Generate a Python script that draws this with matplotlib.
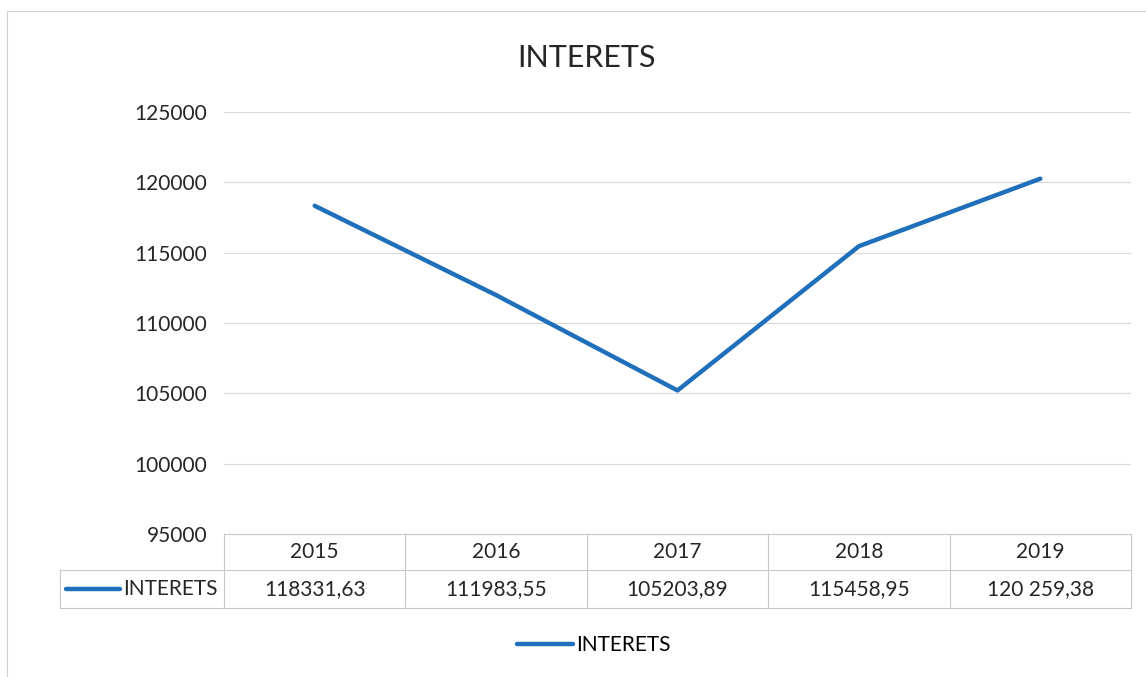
import matplotlib.pyplot as plt
from matplotlib.lines import Line2D
from matplotlib.patches import Rectangle
from matplotlib.transforms import blended_transform_factory

# data
years = ['2015', '2016', '2017', '2018', '2019']
interets = [118331.63, 111983.55, 105203.89, 115458.95, 120259.38]
table_labels = ['118331,63', '111983,55', '105203,89', '115458,95', '120 259,38']
y_ticks = [95000, 100000, 105000, 110000, 115000, 120000, 125000]

line_color = '#1f6fba'
grid_color = '#d9d9d9'
edge_color = '#c8c8c8'
text_color = '#262626'
plt.rcParams['font.family'] = ['Lato', 'DejaVu Sans']

fig = plt.figure(figsize=(11.46, 6.77), dpi=100)
ax = fig.add_axes([224 / 1146, 1 - 534 / 677, 907 / 1146, 422 / 677])

x = list(range(len(years)))
ax.plot(x, interets, color=line_color, linewidth=3.2, solid_capstyle='round',
        label='INTERETS', zorder=3)

ax.set_xlim(-0.5, len(years) - 0.5)
ax.set_ylim(95000, 125000)
ax.set_yticks(y_ticks)
ax.set_yticklabels([str(t) for t in y_ticks], fontsize=15, color=text_color)
ax.tick_params(axis='y', length=0, pad=12)
ax.set_xticks([])
for s in ax.spines.values():
    s.set_visible(False)
for t in y_ticks[1:]:
    ax.axhline(t, color=grid_color, linewidth=0.8, zorder=1)

# title centred on the whole chart area
fig.text(586 / 1146, 1 - 58 / 677, 'INTERETS', ha='center', va='center', fontsize=22,
         color=text_color)

# data table under the chart, drawn by hand
left = -164 / 907
mid = -36 / 422
bot = -74 / 422
ta = ax.transAxes
seg = [([0, 1], [0, 0]), ([left, 1], [mid, mid]), ([left, 1], [bot, bot]),
       ([left, left], [bot, mid])]
for i in range(len(years) + 1):
    xb = i / len(years)
    seg.append(([xb, xb], [bot, 0]))
for xs, ys in seg:
    ax.add_line(Line2D(xs, ys, transform=ta, color=edge_color, linewidth=0.8, clip_on=False))

bt = blended_transform_factory(ax.transData, ax.transAxes)
for xi, yr, lab in zip(x, years, table_labels):
    ax.text(xi, mid / 2, yr, transform=bt, ha='center', va='center', fontsize=15, color=text_color)
    ax.text(xi, (mid + bot) / 2, lab, transform=bt, ha='center', va='center', fontsize=15,
            color=text_color)
ax.text(-6 / 907, (mid + bot) / 2, 'INTERETS', transform=ta, ha='right', va='center',
        fontsize=15, color=text_color)
ax.add_line(Line2D([-158 / 907, -104 / 907], [(mid + bot) / 2] * 2, transform=ta,
                   color=line_color, linewidth=3.2, solid_capstyle='round', clip_on=False))

fig.legend(loc='center', bbox_to_anchor=(594 / 1146, 1 - 645 / 677), frameon=False,
           fontsize=15, handlelength=2.7, handletextpad=0.15)

# outer chart border
fig.patches.append(Rectangle((7 / 1146, -0.1), 1.1, 1 - 11 / 677 + 0.1, transform=fig.transFigure,
                             fill=False, edgecolor='#d0d0d0', linewidth=0.8))

fig.savefig('out.png', dpi=100)
